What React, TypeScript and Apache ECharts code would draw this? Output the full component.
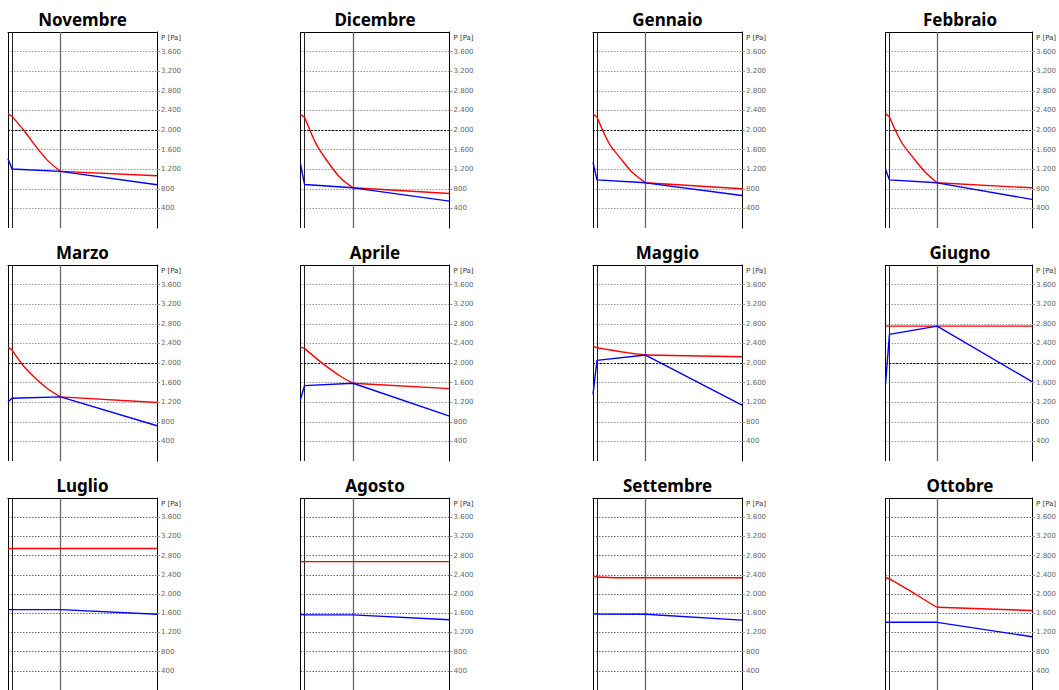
import React, { useEffect, useRef } from "react";
import * as echarts from "echarts";

// Month names (panel titles)
const months = [
  "Novembre", "Dicembre", "Gennaio", "Febbraio",
  "Marzo", "Aprile", "Maggio", "Giugno",
  "Luglio", "Agosto", "Settembre", "Ottobre",
];

// Layer boundaries across the wall (arbitrary thickness units)
const layerEdges = [0, 4, 52.5, 149];

// Positions where saturation pressure is read (red line)
const satX = [0, 4, 16, 28, 40, 52.5, 149];
// Saturation pressure [Pa], one row per month
const satNov = [2327, 2278, 1990, 1660, 1370, 1155, 1067];
const satDic = [2312, 2264, 1700, 1330, 1020, 820, 705];
const satGen = [2325, 2264, 1730, 1410, 1120, 922, 800];
const satFeb = [2339, 2264, 1760, 1440, 1150, 922, 820];
const satMar = [2325, 2264, 1930, 1680, 1470, 1308, 1193];
const satApr = [2325, 2298, 2090, 1900, 1730, 1586, 1478];
const satMag = [2339, 2312, 2270, 2230, 2195, 2163, 2129];
const satGiu = [2753, 2753, 2753, 2753, 2753, 2753, 2753];
const satLug = [2947, 2947, 2947, 2947, 2947, 2947, 2947];
const satAgo = [2674, 2674, 2674, 2674, 2674, 2674, 2674];
const satSet = [2368, 2354, 2345, 2340, 2340, 2340, 2340];
const satOtt = [2338, 2317, 2175, 2030, 1875, 1724, 1655];

// Positions where vapour pressure is read (blue line)
const vapX = [0, 4, 52.5, 149];
// Vapour pressure [Pa], one row per month
const vapNov = [1414, 1204, 1155, 884];
const vapDic = [1308, 888, 820, 549];
const vapGen = [1342, 983, 922, 664];
const vapFeb = [1193, 983, 922, 583];
const vapMar = [1207, 1281, 1308, 719];
const vapApr = [1261, 1539, 1586, 915];
const vapMag = [1363, 2054, 2163, 1139];
const vapGiu = [1566, 2583, 2753, 1620];
const vapLug = [1674, 1674, 1674, 1578];
const vapAgo = [1571, 1568, 1565, 1462];
const vapSet = [1585, 1582, 1578, 1456];
const vapOtt = [1410, 1410, 1410, 1110];

const satP = [satNov, satDic, satGen, satFeb, satMar, satApr, satMag, satGiu, satLug, satAgo, satSet, satOtt];
const vapP = [vapNov, vapDic, vapGen, vapFeb, vapMar, vapApr, vapMag, vapGiu, vapLug, vapAgo, vapSet, vapOtt];

// Y axis scale
const yMin = 0;
const yMax = 4000;
const yStep = 400;
const yRef = 2000;

const fmt = (v: number) => {
  if (v >= 1000) {
    const th = Math.floor(v / 1000);
    const rest = String(v % 1000).padStart(3, "0");
    return th + "." + rest;
  }
  return String(v);
};

export default function App() {
  const ref = useRef<HTMLDivElement>(null);

  useEffect(() => {
    if (!ref.current) return;
    const chart = echarts.init(ref.current, undefined, { renderer: "svg" });

    const PW = 149;
    const PH = 196;
    const COLW = 292.5;
    const ROWH = 233;

    const titles: any[] = [];
    const grids: any[] = [];
    const xAxes: any[] = [];
    const yAxes: any[] = [];
    const series: any[] = [];

    const lineSeries = (i: number, pts: number[][], color: string, z: number, smooth: boolean) => ({
      type: "line",
      xAxisIndex: i,
      yAxisIndex: i,
      data: pts,
      showSymbol: false,
      symbol: "none",
      silent: true,
      z,
      smooth: smooth ? 0.3 : false,
      lineStyle: { color, width: 1.4 },
    });

    months.forEach((m, i) => {
      const c = i % 4;
      const r = Math.floor(i / 4);
      const left = 8 + COLW * c;
      const top = 32 + ROWH * r;

      titles.push({
        text: m,
        left: left + PW / 2,
        top: top - 12.5,
        textAlign: "center",
        textVerticalAlign: "middle",
        padding: 0,
        textStyle: {
          fontFamily: "Noto Sans",
          fontWeight: "bold",
          fontSize: 17,
          color: "#000",
        },
      });

      grids.push({ left, top, width: PW, height: PH, show: false });

      xAxes.push({
        gridIndex: i,
        type: "value",
        min: layerEdges[0],
        max: layerEdges[layerEdges.length - 1],
        position: "top",
        axisLine: { show: true, onZero: false, lineStyle: { color: "#000", width: 1 } },
        axisTick: { show: false },
        axisLabel: { show: false },
        splitLine: { show: false },
      });

      yAxes.push({
        gridIndex: i,
        type: "value",
        position: "right",
        min: yMin,
        max: yMax,
        interval: yStep,
        name: "P [Pa]",
        nameLocation: "end",
        nameGap: -6,
        nameMoveOverlap: false,
        nameTextStyle: {
          fontFamily: "DejaVu Sans",
          fontSize: 7,
          color: "#333",
          align: "left",
          verticalAlign: "middle",
          padding: [0, 0, 0, 4],
        },
        axisLine: { show: true, onZero: false, lineStyle: { color: "#000", width: 1 } },
        axisTick: { show: true, length: 3, lineStyle: { color: "#999" } },
        axisLabel: {
          fontFamily: "DejaVu Sans",
          fontSize: 7,
          color: "#666",
          margin: 4,
          showMinLabel: false,
          showMaxLabel: false,
          formatter: (v: number) => fmt(v),
        },
        splitLine: {
          show: true,
          showMinLine: false,
          showMaxLine: false,
          lineStyle: { color: r < 2 ? "#9a9a9a" : "#6a6a6a", type: [1.5, 1.5], width: 1 },
        },
      });

      const markData: any[] = [
        { xAxis: layerEdges[0], lineStyle: { color: "#000", width: 1, type: "solid" } },
        { xAxis: layerEdges[1], lineStyle: { color: "#222", width: 1, type: "solid" } },
        { xAxis: layerEdges[2], lineStyle: { color: "#666", width: 1.3, type: "solid" } },
      ];
      if (r < 2) {
        markData.push({ yAxis: yRef, lineStyle: { color: "#000", width: 1, type: [2, 1.5] } });
      }

      series.push({
        type: "line",
        xAxisIndex: i,
        yAxisIndex: i,
        data: [],
        silent: true,
        markLine: {
          silent: true,
          symbol: ["none", "none"],
          label: { show: false },
          animation: false,
          data: markData,
        },
      });

      const satPts = satX.map((x, k) => [x, satP[i][k]]);
      // outer thin layer (straight)
      series.push(lineSeries(i, satPts.slice(0, 2), "#ff0000", 10, false));
      // thick layer (curved saturation profile)
      series.push(lineSeries(i, satPts.slice(1, 6), "#ff0000", 10, true));
      // last layer (straight)
      series.push(lineSeries(i, satPts.slice(5), "#ff0000", 10, false));

      series.push(lineSeries(i, vapX.map((x, k) => [x, vapP[i][k]]), "#0000ff", 11, false));
    });

    chart.setOption({
      animation: false,
      backgroundColor: "#fff",
      title: titles,
      grid: grids,
      xAxis: xAxes,
      yAxis: yAxes,
      series,
    });

    return () => chart.dispose();
  }, []);

  return (
    <div
      ref={ref}
      style={{ position: "fixed", left: 0, top: 0, width: 1059, height: 690 }}
    />
  );
}
